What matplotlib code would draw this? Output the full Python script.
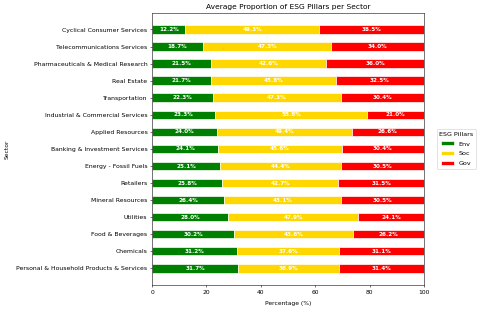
import matplotlib
matplotlib.use("Agg")
import matplotlib.pyplot as plt
import numpy as np

sectors = [
    "Cyclical Consumer Services",
    "Telecommunications Services",
    "Pharmaceuticals & Medical Research",
    "Real Estate",
    "Transportation",
    "Industrial & Commercial Services",
    "Applied Resources",
    "Banking & Investment Services",
    "Energy - Fossil Fuels",
    "Retailers",
    "Mineral Resources",
    "Utilities",
    "Food & Beverages",
    "Chemicals",
    "Personal & Household Products & Services",
]
env = [12.2, 18.7, 21.5, 21.7, 22.3, 23.3, 24.0, 24.1, 25.1, 25.8, 26.4, 28.0, 30.2, 31.2, 31.7]
soc = [49.3, 47.3, 42.6, 45.8, 47.3, 55.8, 49.4, 45.6, 44.4, 42.7, 43.1, 47.9, 43.6, 37.6, 36.9]
gov = [38.5, 34.0, 36.0, 32.5, 30.4, 21.0, 26.6, 30.4, 30.5, 31.5, 30.5, 24.1, 26.2, 31.1, 31.4]
series_names = ["Env", "Soc", "Gov"]
colors = ["green", "gold", "red"]

fig = plt.figure(figsize=(10, 6.44), dpi=48)
ax = fig.add_axes([0.317, 0.078, 0.566, 0.88])

y = np.arange(len(sectors))
left = np.zeros(len(sectors))
for name, vals, c in zip(series_names, [env, soc, gov], colors):
    vals = np.array(vals)
    ax.barh(y, vals, left=left, height=0.5, color=c, edgecolor="white", label=name)
    for yi, l, v in zip(y, left, vals):
        ax.text(l + v / 2, yi, f"{v:.1f}%", ha="center", va="center",
                color="white", fontsize=8.5, fontweight="bold")
    left += vals

ax.set_yticks(y)
ax.set_yticklabels(sectors, fontsize=9.2)
ax.tick_params(axis="x", labelsize=9)
ax.invert_yaxis()
ax.set_xlim(0, 100)
ax.set_xlabel("Percentage (%)", fontsize=9, labelpad=9)
ax.set_ylabel("Sector", fontsize=9, labelpad=10)
ax.set_title("Average Proportion of ESG Pillars per Sector", fontsize=11.2)
leg = ax.legend(title="ESG Pillars", loc="center left", bbox_to_anchor=(1.035, 0.5),
                fontsize=9.5, title_fontsize=9.5, labelspacing=0.7)

fig.savefig("out.png", dpi=48)
